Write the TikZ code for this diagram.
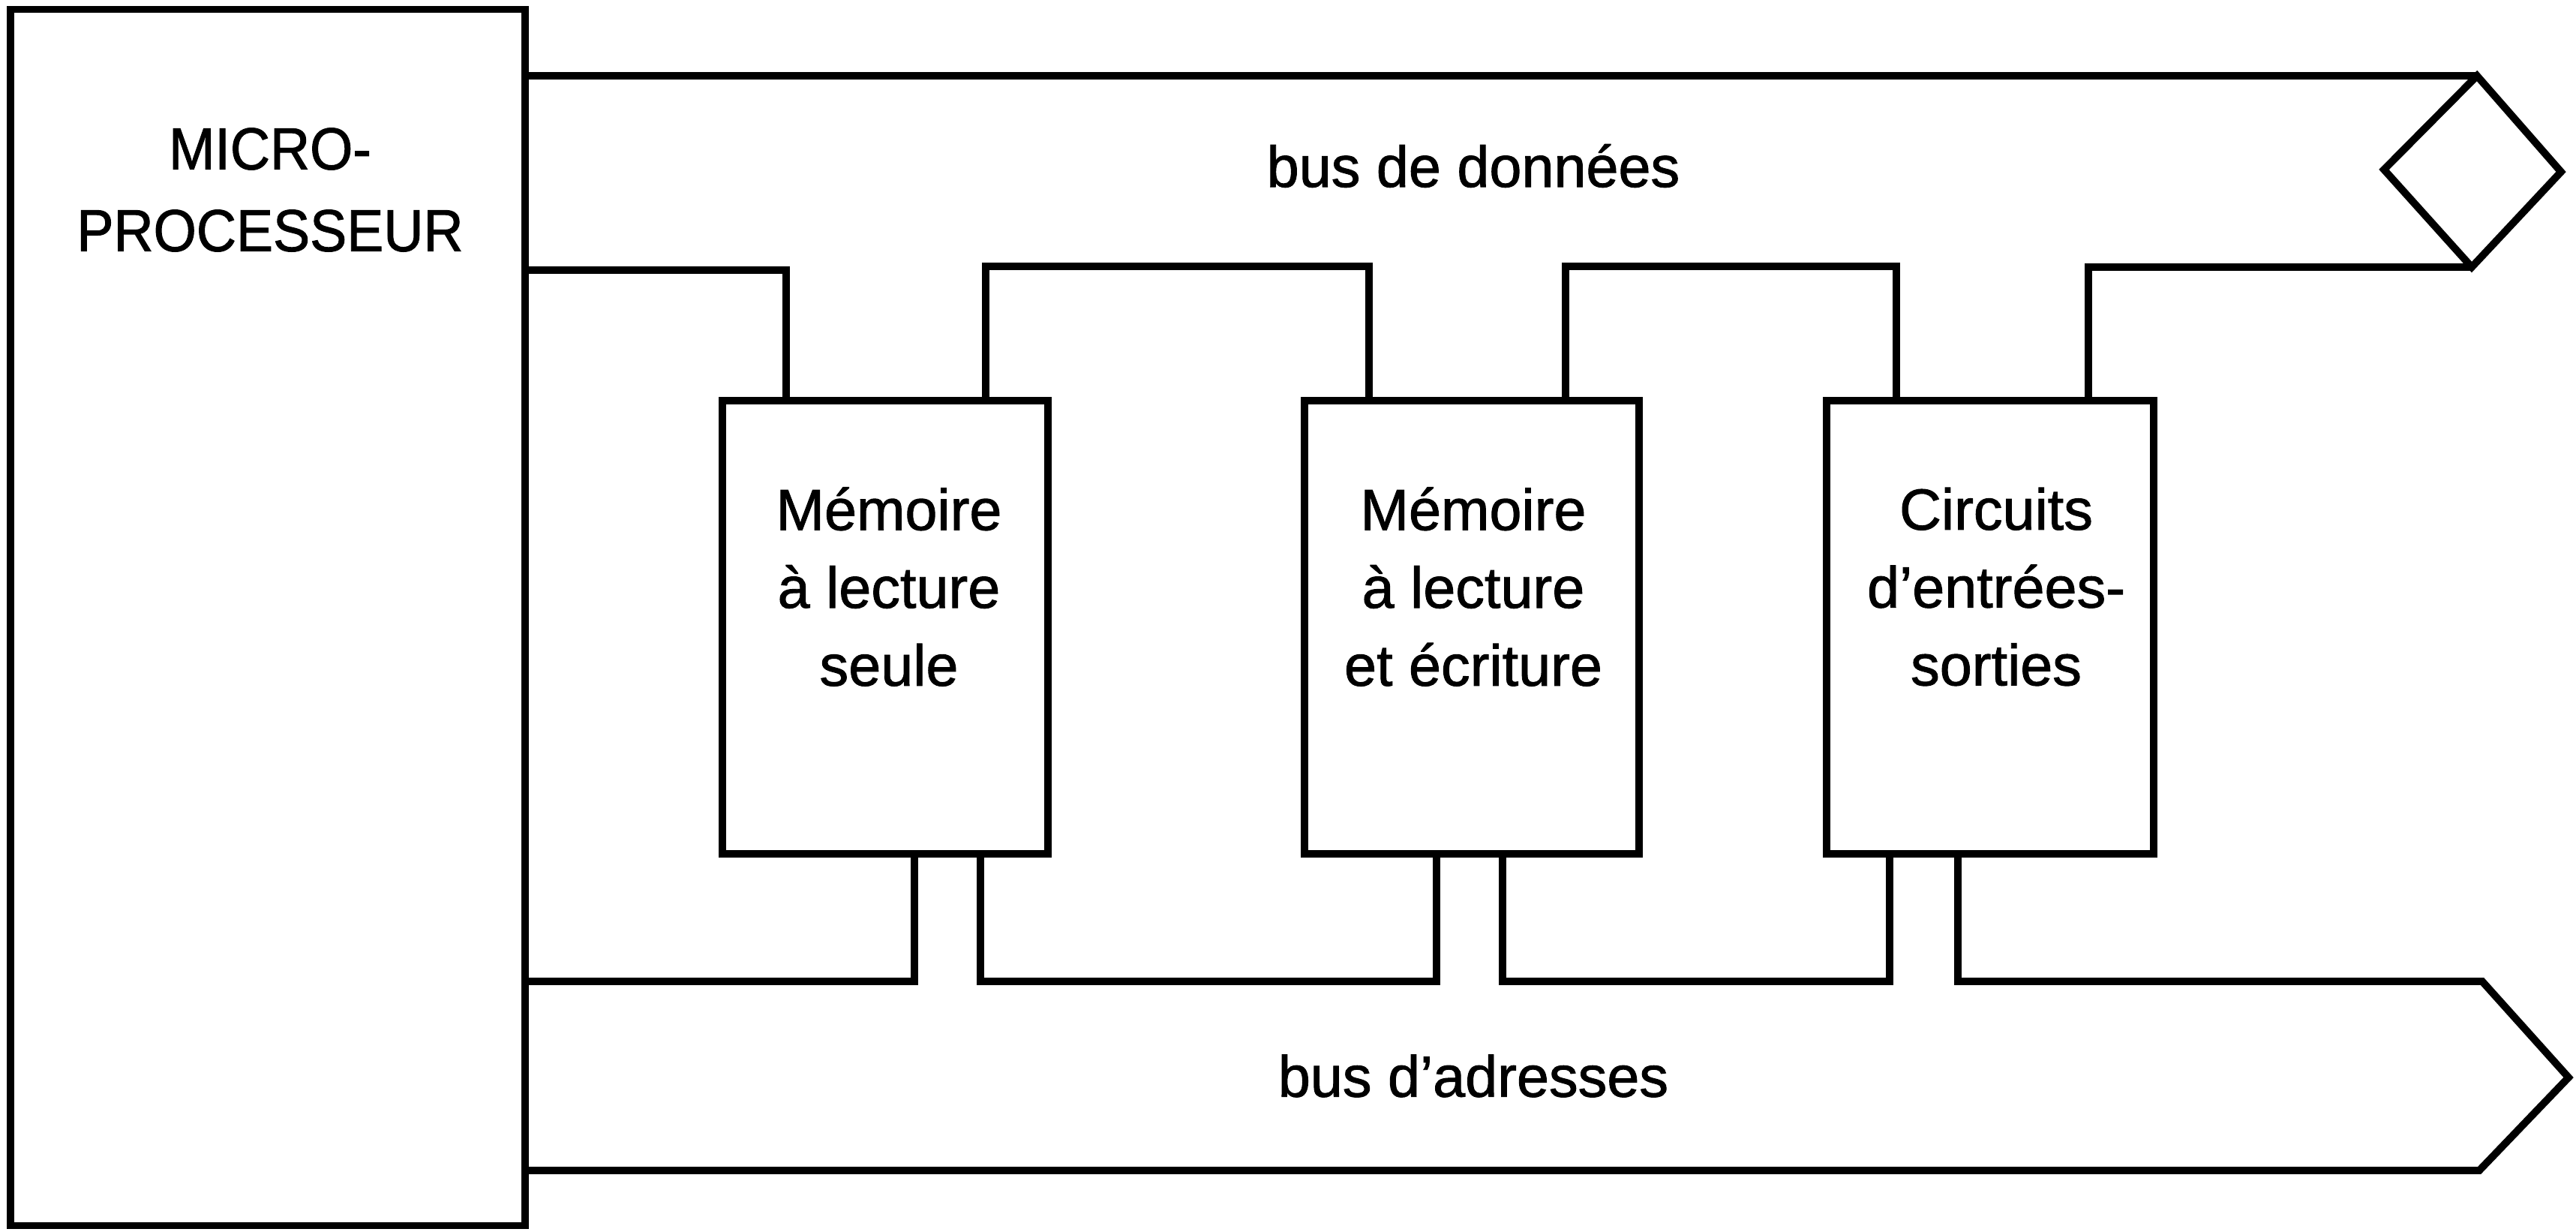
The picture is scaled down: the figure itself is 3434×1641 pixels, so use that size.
\documentclass[tikz,border=0pt]{standalone}
\usepackage{fontspec}
\setmainfont{Liberation Sans}[FakeBold=1.2]
\newfontfamily\narrowsans{Liberation Sans}[FakeBold=1.2, FakeStretch=0.93]
\begin{document}
\begin{tikzpicture}[x=0.01cm,y=-0.01cm,
  bus/.style={line width=2.8pt, line join=miter},
  blk/.style={draw, line width=2.8pt, rectangle, inner sep=0pt},
  lbl/.style={align=center, inner sep=0pt, font=\fontsize{22}{29.5}\selectfont}]
\useasboundingbox (0,0) rectangle (3434,1641);
% blocks
\node[blk, minimum width=6.85cm, minimum height=16.2cm] (micro) at (357,823) {};
\node[lbl, font=\narrowsans\fontsize{22.5}{31}\selectfont] (microtxt) at (360,253) {MICRO-\\PROCESSEUR};
\node[blk, minimum width=4.34cm, minimum height=6.04cm] (m1) at (1180,836) {};
\node[lbl] (m1txt) at (1185,782) {Mémoire\\à lecture\\seule};
\node[blk, minimum width=4.45cm, minimum height=6.04cm] (m2) at (1962,836) {};
\node[lbl] (m2txt) at (1964,782) {Mémoire\\à lecture\\et écriture};
\node[blk, minimum width=4.35cm, minimum height=6.04cm] (m3) at (2653,836) {};
\node[lbl] (m3txt) at (2661,782) {Circuits\\d’entrées-\\sorties};
% bus labels
\node[lbl] (dbtxt) at (1964,221) {bus de données};
\node[lbl] (abtxt) at (1964,1434) {bus d’adresses};
% data bus
\coordinate (dtop) at (3302,101);
\coordinate (dright) at (3414,229);
\coordinate (dbot) at (3295,356);
\coordinate (dleft) at (3178,226);
\draw[bus] (micro.east |- 0,101) -- (dtop);
\draw[bus] (dtop) -- (dright) -- (dbot) -- (dleft) -- cycle;
\draw[bus] (micro.east |- 0,360) -- (1048,360) -- (1048,0 |- m1.north);
\draw[bus] (1314,0 |- m1.north) -- (1314,355) -- (1825,355) -- (1825,0 |- m2.north);
\draw[bus] (2087,0 |- m2.north) -- (2087,355) -- (2528,355) -- (2528,0 |- m3.north);
\draw[bus] (2784,0 |- m3.north) -- (2784,356) -- (dbot);
% address bus
\coordinate (atop) at (3309,1308);
\coordinate (atip) at (3424,1436);
\coordinate (abot) at (3305,1560);
\draw[bus] (micro.east |- 0,1308) -- (1219,1308) -- (1219,0 |- m1.south);
\draw[bus] (1307,0 |- m1.south) -- (1307,1308) -- (1915,1308) -- (1915,0 |- m2.south);
\draw[bus] (2003,0 |- m2.south) -- (2003,1308) -- (2519,1308) -- (2519,0 |- m3.south);
\draw[bus] (2610,0 |- m3.south) -- (2610,1308) -- (atop) -- (atip) -- (abot) -- (micro.east |- 0,1560);
\end{tikzpicture}
\end{document}
